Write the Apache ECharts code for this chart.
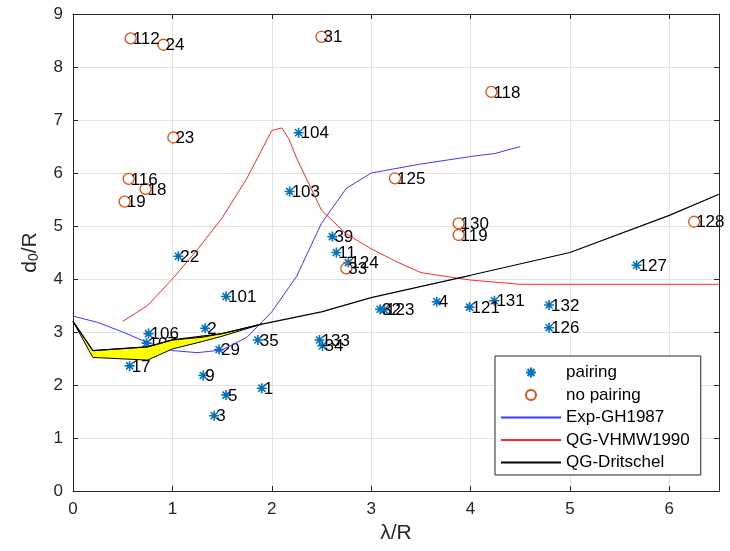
<!DOCTYPE html>
<html>
<head>
<meta charset="utf-8">
<script src="https://cdn.jsdelivr.net/npm/echarts@6/dist/echarts.min.js"></script>
<style>html,body{margin:0;padding:0;background:#fff;}#c{width:730px;height:551px;}</style>
</head>
<body>
<div id="c"></div>
<script>
// ---- data ----
const pairingX   = [1.54, 0.76, 0.74, 1.33, 1.47, 1.86, 0.57, 1.31, 1.54, 1.90, 1.42, 2.48, 2.51, 3.09, 3.13, 3.66, 2.65, 2.77, 2.61, 3.99, 4.24, 4.79, 4.79, 2.27, 2.18, 1.06, 5.67];
const pairingY   = [3.67, 2.97, 2.79, 3.07, 2.67, 2.85, 2.36, 2.18, 1.81, 1.94, 1.42, 2.85, 2.74, 3.43, 3.42, 3.57, 4.50, 4.31, 4.80, 3.47, 3.59, 3.51, 3.08, 6.76, 5.65, 4.43, 4.26];
const pairingLbl = ['101','106','107','2','29','35','17','9','5','1','3','133','34','32','123','4','11','124','39','121','131','132','126','104','103','22','127'];

const noPairX   = [0.58, 0.91, 2.50, 1.01, 0.56, 0.73, 0.52, 4.21, 3.24, 3.88, 3.88, 6.25, 2.75];
const noPairY   = [8.54, 8.42, 8.57, 6.67, 5.89, 5.70, 5.46, 7.53, 5.90, 5.05, 4.83, 5.08, 4.20];
const noPairLbl = ['112','24','31','23','116','18','19','118','125','130','119','128','33'];

const expX = [0, 0.25, 0.5, 0.75, 1.0, 1.25, 1.5, 1.75, 2.0, 2.25, 2.5, 2.75, 3.0, 3.5, 4.0, 4.25, 4.5];
const expY = [3.3, 3.18, 3.0, 2.8, 2.65, 2.61, 2.66, 2.9, 3.38, 4.05, 5.05, 5.71, 6.0, 6.17, 6.31, 6.37, 6.5];

const vhmwX = [0.5, 0.75, 1.0, 1.25, 1.5, 1.75, 2.0, 2.1, 2.17, 2.25, 2.5, 2.75, 3.0, 3.25, 3.5, 4.0, 4.5, 5.0, 5.5, 6.0, 6.5];
const vhmwY = [3.2, 3.5, 4.0, 4.55, 5.15, 5.9, 6.8, 6.85, 6.65, 6.28, 5.3, 4.85, 4.57, 4.33, 4.12, 3.98, 3.9, 3.9, 3.9, 3.9, 3.9];

const dritX = [0, 0.2, 0.75, 1.0, 1.5, 1.9, 2.5, 3.0, 4.0, 5.0, 6.0, 6.5];
const dritY = [3.2, 2.65, 2.72, 2.85, 2.97, 3.15, 3.38, 3.65, 4.07, 4.5, 5.2, 5.6];

const bandX     = [0, 0.2, 0.75, 1.0, 1.3, 1.5, 1.9];
const bandUpper = [3.2, 2.65, 2.72, 2.85, 2.90, 2.97, 3.15];
const bandLower = [3.2, 2.52, 2.47, 2.68, 2.82, 2.92, 3.15];

const xTicks = [0, 1, 2, 3, 4, 5, 6];
const yTicks = [0, 1, 2, 3, 4, 5, 6, 7, 8, 9];

// ---- chart ----
const FONT = "'Liberation Sans', Arial, Helvetica, sans-serif";
const AX = '#262626';
const zip = (xs, ys) => xs.map((x, i) => [x, ys[i]]);
const starPath = 'path://M5 0L5 10M0 5L10 5M1.5 1.5L8.5 8.5M1.5 8.5L8.5 1.5';

const labelCfg = {
  show: true, position: 'inside', align: 'left', verticalAlign: 'middle',
  offset: [2, 1], color: '#000', fontSize: 17, fontFamily: FONT,
  formatter: p => p.data[2]
};

const chart = echarts.init(document.getElementById('c'), null, {renderer: 'canvas'});
const axisCommon = {
  axisLine: {show: true, onZero: false, lineStyle: {color: AX, width: 1}},
  axisTick: {show: true, inside: true, length: 5, lineStyle: {color: AX}},
};
const hideSym = {itemStyle: {opacity: 0}, lineStyle: {opacity: 1}};
chart.setOption({
  animation: false,
  backgroundColor: '#fff',
  textStyle: {fontFamily: FONT},
  grid: {left: 73, right: 11, top: 14, bottom: 60, containLabel: false},
  xAxis: [{
    type: 'value', min: 0, max: 6.5, interval: 1, position: 'bottom',
    ...axisCommon,
    axisLabel: {color: AX, fontSize: 17, fontFamily: FONT, margin: 10, showMaxLabel: false,
      formatter: v => xTicks.includes(v) ? String(v) : ''},
    splitLine: {show: true, lineStyle: {color: '#e3e3e3', width: 1}},
    name: 'λ/R', nameLocation: 'middle', nameGap: 28,
    nameTextStyle: {color: AX, fontSize: 21, fontFamily: FONT}
  }, {
    type: 'value', min: 0, max: 6.5, interval: 1, position: 'top',
    ...axisCommon, axisLabel: {show: false}, splitLine: {show: false}
  }],
  yAxis: [{
    type: 'value', min: 0, max: 9, interval: 1, position: 'left',
    ...axisCommon,
    axisLabel: {color: AX, fontSize: 17, fontFamily: FONT, margin: 10,
      formatter: v => yTicks.includes(v) ? String(v) : ''},
    splitLine: {show: true, lineStyle: {color: '#e3e3e3', width: 1}},
    name: '{a|d}{s|0}{a|/R}', nameLocation: 'middle', nameGap: 32, nameRotate: 90,
    nameTextStyle: {color: AX, fontFamily: FONT,
      rich: {a: {fontSize: 21, color: AX, fontFamily: FONT},
             s: {fontSize: 14, color: AX, fontFamily: FONT, verticalAlign: 'bottom', padding: [8, 0, 0, 0]}}}
  }, {
    type: 'value', min: 0, max: 9, interval: 1, position: 'right',
    ...axisCommon, axisLabel: {show: false}, splitLine: {show: false}
  }],
  legend: {
    orient: 'vertical', left: 495, top: 356,
    itemWidth: 60, itemHeight: 10, itemGap: 5.5,
    padding: [8, 11, 4, 5],
    backgroundColor: '#fff', borderColor: AX, borderWidth: 1,
    textStyle: {color: '#000', fontSize: 17, fontFamily: FONT},
    data: [
      {name: 'pairing'},
      {name: 'no pairing'},
      {name: 'Exp-GH1987', ...hideSym},
      {name: 'QG-VHMW1990', ...hideSym},
      {name: 'QG-Dritschel', ...hideSym}
    ]
  },
  series: [
    {
      name: 'pairing', type: 'scatter', z: 2,
      symbol: starPath, symbolSize: 10,
      itemStyle: {color: 'none', borderColor: '#0072BD', borderWidth: 1.6, opacity: 1},
      data: pairingX.map((x, i) => [x, pairingY[i], pairingLbl[i]]),
      label: labelCfg, emphasis: {disabled: true}
    },
    {
      name: 'no pairing', type: 'scatter', z: 2,
      symbol: 'circle', symbolSize: 11,
      itemStyle: {color: 'none', borderColor: '#D95319', borderWidth: 1.3, opacity: 1},
      data: noPairX.map((x, i) => [x, noPairY[i], noPairLbl[i]]),
      label: labelCfg, emphasis: {disabled: true}
    },
    {
      name: 'Exp-GH1987', type: 'line', z: 3, symbol: 'none',
      lineStyle: {color: '#3a3aff', width: 1}, itemStyle: {color: '#3a3aff'},
      data: zip(expX, expY)
    },
    {
      name: 'QG-VHMW1990', type: 'line', z: 3, symbol: 'none',
      lineStyle: {color: '#ff2a2a', width: 1}, itemStyle: {color: '#ff2a2a'},
      data: zip(vhmwX, vhmwY)
    },
    {
      name: 'band', type: 'custom', z: 4, silent: true,
      data: [[0, 0]],
      renderItem: (params, api) => {
        const pts = [];
        for (let i = 0; i < bandX.length; i++) pts.push(api.coord([bandX[i], bandUpper[i]]));
        for (let i = bandX.length - 1; i >= 0; i--) pts.push(api.coord([bandX[i], bandLower[i]]));
        return {type: 'polygon', shape: {points: pts},
          style: {fill: '#ffff00', stroke: '#000', lineWidth: 1}};
      }
    },
    {
      name: 'QG-Dritschel', type: 'line', z: 5, symbol: 'none',
      lineStyle: {color: '#000', width: 1.2}, itemStyle: {color: '#000'},
      data: zip(dritX, dritY)
    }
  ]
});
</script>
</body>
</html>
